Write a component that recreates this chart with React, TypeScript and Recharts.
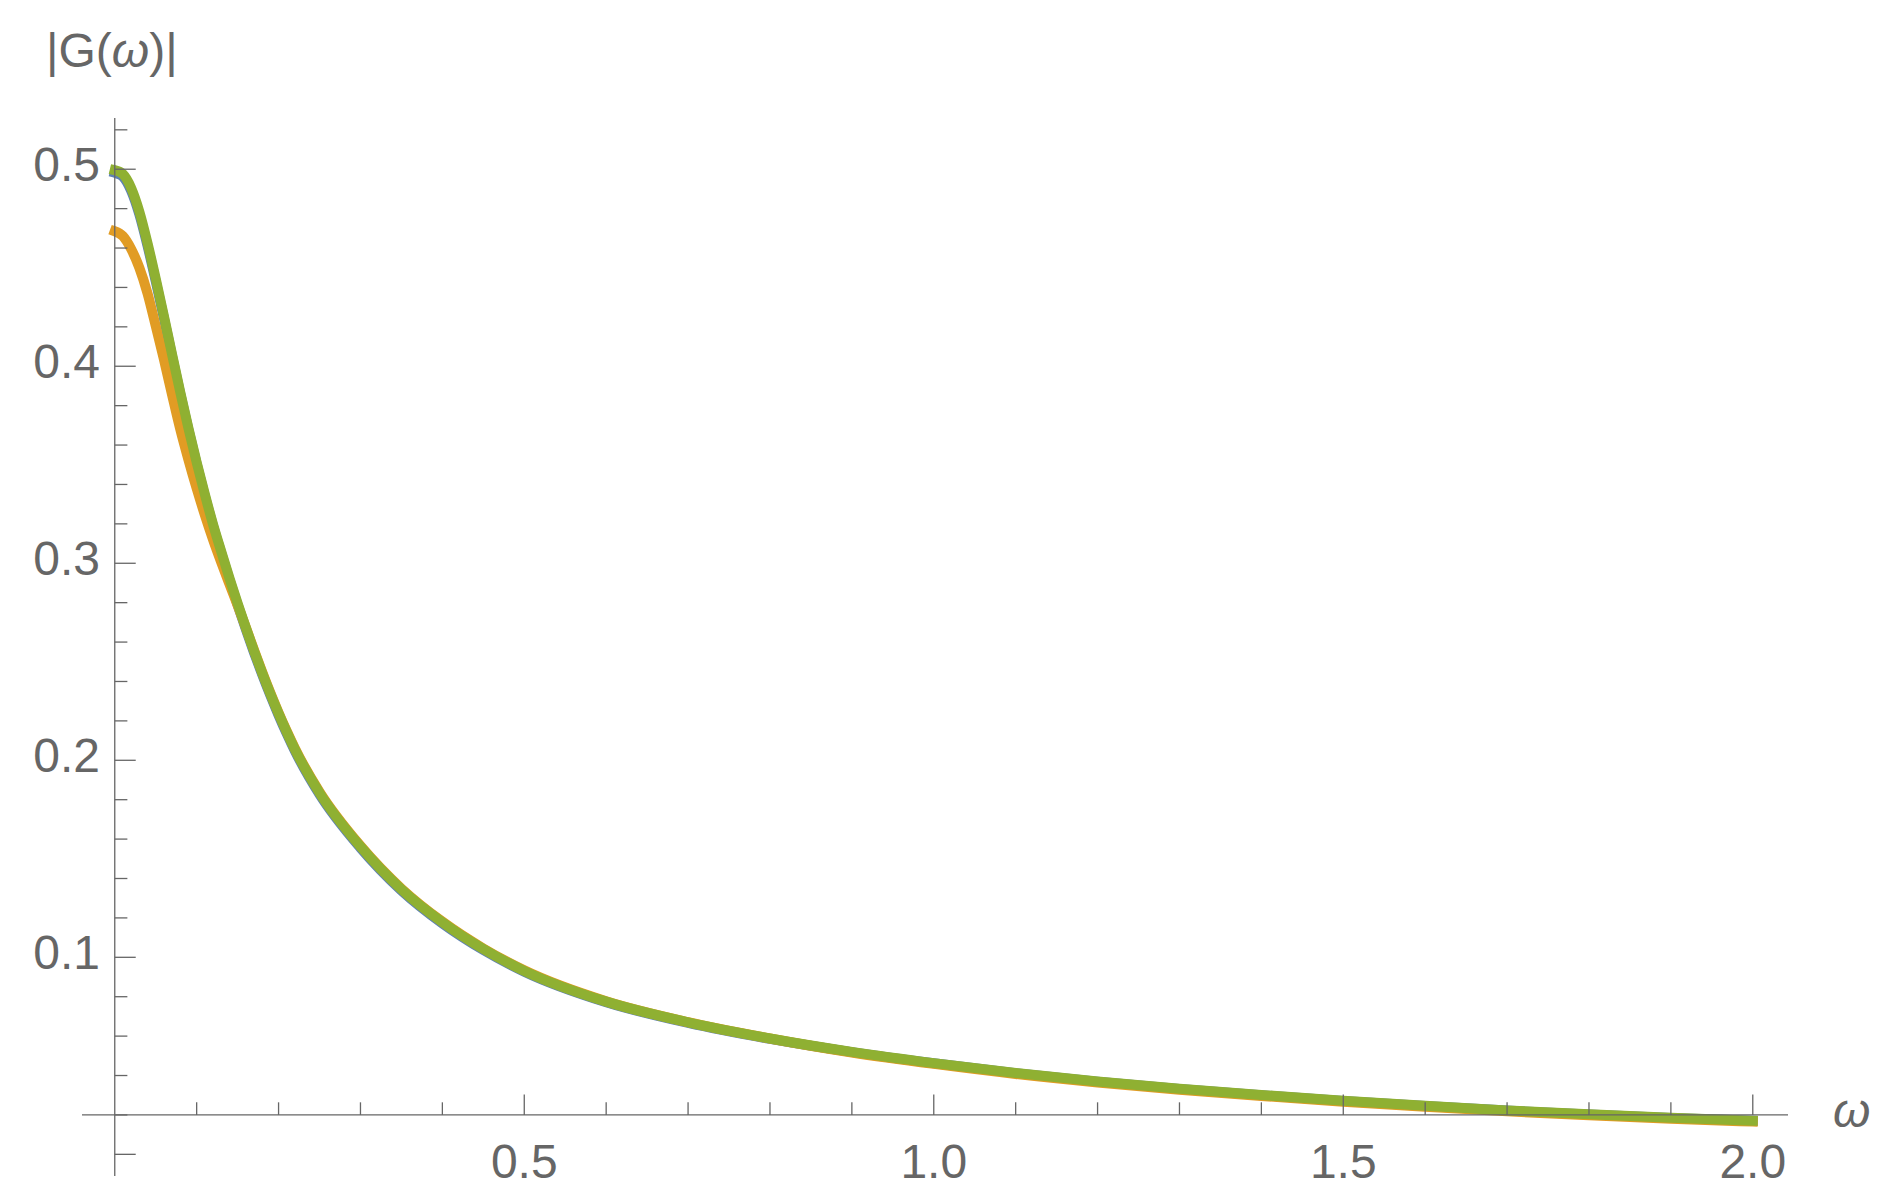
import { LineChart, Line, XAxis, YAxis, ReferenceLine } from 'recharts';

// frequency samples (ω)
const omega = [
  0, 0.01, 0.02, 0.03, 0.04, 0.05, 0.06, 0.07, 0.08, 0.09, 0.1, 0.11, 0.12, 0.13, 0.14, 0.15,
  0.16, 0.17, 0.18, 0.19, 0.2, 0.21, 0.22, 0.25, 0.3, 0.35, 0.4, 0.45, 0.5, 0.6, 0.7, 0.8, 0.9,
  1.0, 1.1, 1.2, 1.3, 1.4, 1.5, 1.6, 1.7, 1.8, 1.9, 2.0,
];

// |G(ω)| for the three curves
const blueCurve = [
  0.4983, 0.4962, 0.4891, 0.4771, 0.4611, 0.4432, 0.4245, 0.4051, 0.386, 0.3677, 0.3504, 0.3342,
  0.319, 0.3052, 0.2917, 0.2789, 0.2665, 0.2547, 0.2435, 0.2329, 0.2229, 0.2135, 0.2047, 0.1827,
  0.1555, 0.1339, 0.1172, 0.1037, 0.0927, 0.0772, 0.0667, 0.0586, 0.0519, 0.0462, 0.0412, 0.0369,
  0.0332, 0.03, 0.0271, 0.0245, 0.0222, 0.0202, 0.0185, 0.017,
];
const orangeCurve = [
  0.4685, 0.466, 0.4595, 0.45, 0.437, 0.4205, 0.4035, 0.3855, 0.368, 0.3525, 0.338, 0.3245,
  0.312, 0.3005, 0.2895, 0.2787, 0.2675, 0.256, 0.2448, 0.2342, 0.2242, 0.2148, 0.206, 0.184,
  0.1566, 0.1349, 0.1181, 0.1045, 0.0934, 0.0777, 0.0671, 0.0588, 0.0517, 0.0459, 0.0408, 0.0365,
  0.0328, 0.0296, 0.0267, 0.0241, 0.0218, 0.0198, 0.0181, 0.0166,
];
const greenCurve = [
  0.4995, 0.4975, 0.4905, 0.4785, 0.4625, 0.4445, 0.4255, 0.406, 0.3868, 0.3685, 0.3512, 0.335,
  0.3198, 0.306, 0.2925, 0.2797, 0.2673, 0.2555, 0.2443, 0.2337, 0.2237, 0.2143, 0.2055, 0.1835,
  0.1562, 0.1345, 0.1178, 0.1042, 0.0931, 0.0775, 0.067, 0.0588, 0.052, 0.0463, 0.0413, 0.037,
  0.0333, 0.0301, 0.0272, 0.0246, 0.0223, 0.0203, 0.0186, 0.0171,
];

// axis ticks
const xTickLabels = [0.5, 1.0, 1.5, 2.0];
const xMinorTicks = [0.1, 0.2, 0.3, 0.4, 0.6, 0.7, 0.8, 0.9, 1.1, 1.2, 1.3, 1.4, 1.6, 1.7, 1.8, 1.9];
const yTickLabels = [0.1, 0.2, 0.3, 0.4, 0.5];
const yMajorTicks = [0, 0.1, 0.2, 0.3, 0.4, 0.5];
const yMinorTicks = [
  0.02, 0.04, 0.06, 0.08, 0.12, 0.14, 0.16, 0.18, 0.22, 0.24, 0.26, 0.28,
  0.32, 0.34, 0.36, 0.38, 0.42, 0.44, 0.46, 0.48, 0.52,
];

const data = omega.map((w, i) => ({
  omega: w,
  blue: blueCurve[i],
  orange: orangeCurve[i],
  green: greenCurve[i],
}));

const AXIS_Y = 0.02; // where the ω axis crosses
const GRAY = '#666666';
const FONT = "'Liberation Sans', Arial, sans-serif";

const XTick = ({ x, y, payload }: any) => (
  <text x={x} y={y + 2} textAnchor="middle" fill={GRAY} fontSize={48} fontFamily={FONT}>
    {Number(payload.value).toFixed(1)}
  </text>
);

const YTick = ({ x, y, payload }: any) => (
  <text x={x + 18} y={y + 12} textAnchor="end" fill={GRAY} fontSize={48} fontFamily={FONT}>
    {Number(payload.value).toFixed(1)}
  </text>
);

const YTitle = ({ viewBox }: any) => (
  <text x={viewBox.x - 35} y={viewBox.y - 51} fill={GRAY} fontSize={48} fontFamily={FONT}>
    |G(<tspan fontStyle="italic">ω</tspan>)|
  </text>
);

const XTitle = ({ viewBox }: any) => (
  <text
    x={viewBox.x + viewBox.width + 45}
    y={viewBox.y - 49}
    fill={GRAY}
    fontSize={48}
    fontStyle="italic"
    fontFamily={FONT}
  >
    ω
  </text>
);

export default function App() {
  return (
    <div style={{ position: 'absolute', left: 0, top: 0, background: '#fff' }}>
      <LineChart
        width={1881}
        height={1196}
        data={data}
        margin={{ top: 118, right: 93, bottom: 19, left: 81 }}
      >
        <XAxis
          type="number"
          dataKey="omega"
          domain={[-0.04, 2.043]}
          allowDataOverflow
          ticks={xTickLabels}
          interval={0}
          axisLine={false}
          tickLine={false}
          tickSize={0}
          tickMargin={0}
          height={1}
          tick={<XTick />}
          label={{ content: <XTitle /> }}
        />
        <YAxis
          type="number"
          domain={[-0.011, 0.526]}
          allowDataOverflow
          ticks={yTickLabels}
          interval={0}
          axisLine={false}
          tickLine={false}
          tickSize={0}
          tickMargin={0}
          width={1}
          tick={<YTick />}
          label={{ content: <YTitle /> }}
        />
        <Line
          type="monotone"
          dataKey="blue"
          stroke="#5E81B5"
          strokeWidth={10}
          strokeLinecap="square"
          dot={false}
          isAnimationActive={false}
        />
        <Line
          type="monotone"
          dataKey="orange"
          stroke="#E19C24"
          strokeWidth={10}
          strokeLinecap="square"
          dot={false}
          isAnimationActive={false}
        />
        <Line
          type="monotone"
          dataKey="green"
          stroke="#8FB032"
          strokeWidth={10}
          strokeLinecap="square"
          dot={false}
          isAnimationActive={false}
        />
        <ReferenceLine x={0} stroke={GRAY} strokeWidth={1.3} />
        <ReferenceLine y={AXIS_Y} stroke={GRAY} strokeWidth={1.3} />
        {xMinorTicks.map((t) => (
          <ReferenceLine
            key={'xm' + t}
            segment={[{ x: t, y: AXIS_Y }, { x: t, y: AXIS_Y + 0.0064 }]}
            stroke={GRAY}
            strokeWidth={1.3}
          />
        ))}
        {xTickLabels.map((t) => (
          <ReferenceLine
            key={'xM' + t}
            segment={[{ x: t, y: AXIS_Y }, { x: t, y: AXIS_Y + 0.0104 }]}
            stroke={GRAY}
            strokeWidth={1.3}
          />
        ))}
        {yMinorTicks.map((t) => (
          <ReferenceLine
            key={'ym' + t}
            segment={[{ x: 0, y: t }, { x: 0.0154, y: t }]}
            stroke={GRAY}
            strokeWidth={1.3}
          />
        ))}
        {yMajorTicks.map((t) => (
          <ReferenceLine
            key={'yM' + t}
            segment={[{ x: 0, y: t }, { x: 0.0256, y: t }]}
            stroke={GRAY}
            strokeWidth={1.3}
          />
        ))}
      </LineChart>
    </div>
  );
}
